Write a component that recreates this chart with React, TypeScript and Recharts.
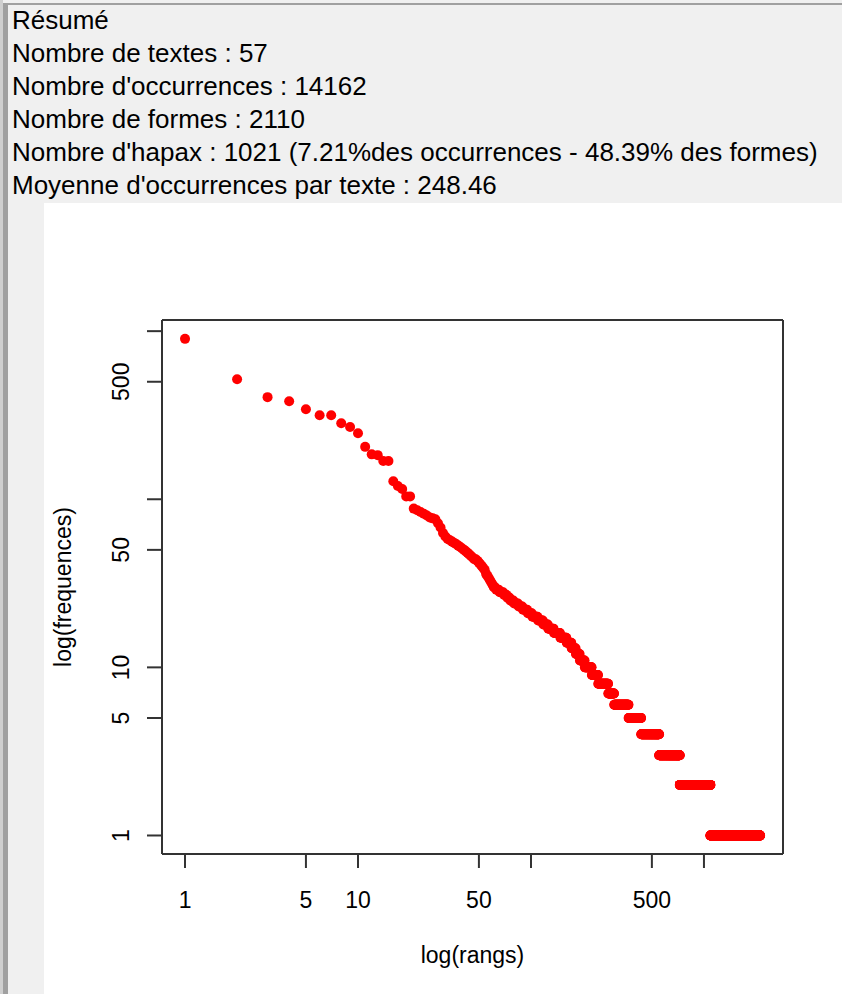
import React from 'react';
import { ScatterChart, Scatter, XAxis, YAxis } from 'recharts';

const summaryLines = [
  'Résumé',
  'Nombre de textes : 57',
  "Nombre d'occurrences : 14162",
  'Nombre de formes : 2110',
  "Nombre d'hapax : 1021 (7.21%des occurrences - 48.39% des formes)",
  "Moyenne d'occurrences par texte : 248.46",
];

// frequencies of the most frequent forms, rank 1 to 60
const topFrequencies = [
  900, 518, 405, 383, 343, 316, 316, 283, 269, 247,
  205, 185, 183, 169, 169, 128, 120, 115, 104, 104,
  88, 86, 84, 82, 80, 78, 77, 76, 72, 68,
  63, 60, 58, 57, 56, 55, 54, 53, 52, 51,
  50, 49, 48, 47, 46, 45, 44, 44, 43, 42,
  41, 40, 39, 38, 36, 35, 34, 33, 32, 31,
];

// rest of the vocabulary as a frequency spectrum: frequency -> number of forms
const frequencyLevels = [30, 29, 28, 27, 26, 25, 24, 23, 22, 21, 20, 19, 18, 17, 16, 15, 14, 13, 12, 11, 10, 9, 8, 7, 6, 5, 4, 3, 2, 1];
const formsPerLevel = [2, 3, 4, 3, 3, 4, 5, 5, 6, 6, 8, 8, 8, 10, 12, 13, 11, 10, 10, 13, 20, 20, 35, 23, 64, 67, 117, 174, 365, 1021];

const rankTicks = [1, 5, 10, 50, 100, 500, 1000];
const freqTicks = [1, 5, 10, 50, 100, 500, 1000];
const hiddenTickLabels = [100, 1000];

const xAxisTitle = 'log(rangs)';
const yAxisTitle = 'log(frequences)';

const points: { rank: number; freq: number }[] = [];
topFrequencies.forEach((f, i) => points.push({ rank: i + 1, freq: f }));
frequencyLevels.forEach((f, i) => {
  for (let k = 0; k < formsPerLevel[i]; k++) {
    points.push({ rank: points.length + 1, freq: f });
  }
});

const font = "'Liberation Sans', Arial, sans-serif";
const boxLine = { stroke: '#333', strokeWidth: 2 };
const rankDomain = [0.736, 2864];
const freqDomain = [0.776, 1165];

const XTick = (props: any) => {
  const { x, y, payload } = props;
  if (hiddenTickLabels.includes(payload.value)) return <g />;
  return (
    <text x={x} y={y} textAnchor="middle" dominantBaseline="central" fontSize={23} fontFamily={font} fill="#000">
      {payload.value}
    </text>
  );
};

const YTick = (props: any) => {
  const { x, y, payload } = props;
  if (hiddenTickLabels.includes(payload.value)) return <g />;
  return (
    <text
      x={x}
      y={y}
      transform={`rotate(-90, ${x}, ${y})`}
      textAnchor="middle"
      dominantBaseline="central"
      fontSize={23}
      fontFamily={font}
      fill="#000"
    >
      {payload.value}
    </text>
  );
};

const NoTick = () => <g />;

const Dot = (props: any) => <circle cx={props.cx} cy={props.cy} r={5} fill="#ff0000" />;

export default function App() {
  return (
    <div style={{ position: 'absolute', left: 0, top: 0, width: 842, height: 994, background: '#f0f0f0', overflow: 'hidden' }}>
      <div style={{ position: 'absolute', left: 0, top: 3, width: 842, height: 2, background: '#a0a0a0' }} />
      <div style={{ position: 'absolute', left: 0, top: 0, width: 3, height: 994, background: '#cfcfcf' }} />
      <div style={{ position: 'absolute', left: 3, top: 3, width: 5, height: 991, background: '#a0a0a0' }} />
      <div style={{ position: 'absolute', left: 44, top: 203, width: 798, height: 791, background: '#fff' }} />
      <div style={{ position: 'absolute', left: 12, top: 4, fontFamily: font, fontSize: 26, lineHeight: '33px', color: '#000', whiteSpace: 'nowrap' }}>
        {summaryLines.map((line) => (
          <div key={line}>{line}</div>
        ))}
      </div>
      <div style={{ position: 'absolute', left: 0, top: 0 }}>
        <ScatterChart width={842} height={994} margin={{ top: 319, right: 58, bottom: 0, left: 0 }}>
          <XAxis
            dataKey="rank"
            type="number"
            scale="log"
            domain={rankDomain}
            allowDataOverflow
            ticks={rankTicks}
            interval={0}
            height={140}
            tickSize={14}
            tickMargin={32}
            tick={<XTick />}
            tickLine={boxLine}
            axisLine={boxLine}
            label={{ value: xAxisTitle, position: 'insideBottom', offset: 31, fill: '#000', fontSize: 23, fontFamily: font }}
          />
          <XAxis
            xAxisId="top"
            dataKey="rank"
            orientation="top"
            type="number"
            scale="log"
            domain={rankDomain}
            allowDataOverflow
            ticks={rankTicks}
            height={1}
            tick={<NoTick />}
            tickLine={false}
            axisLine={boxLine}
          />
          <YAxis
            dataKey="freq"
            type="number"
            scale="log"
            domain={freqDomain}
            allowDataOverflow
            ticks={freqTicks}
            interval={0}
            width={162}
            tickSize={15}
            tickMargin={26}
            tick={<YTick />}
            tickLine={boxLine}
            axisLine={boxLine}
            label={{ value: yAxisTitle, angle: -90, position: 'insideLeft', offset: 63, fill: '#000', fontSize: 23, fontFamily: font, style: { textAnchor: 'middle' } }}
          />
          <YAxis
            yAxisId="right"
            dataKey="freq"
            orientation="right"
            type="number"
            scale="log"
            domain={freqDomain}
            allowDataOverflow
            ticks={freqTicks}
            width={1}
            tick={<NoTick />}
            tickLine={false}
            axisLine={boxLine}
          />
          <Scatter data={points} shape={<Dot />} isAnimationActive={false} />
        </ScatterChart>
      </div>
    </div>
  );
}
